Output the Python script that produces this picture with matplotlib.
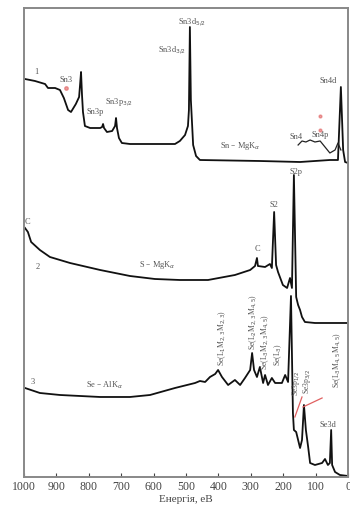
import numpy as np
from matplotlib import pyplot as plt

plt.rcParams['font.family'] = ['Liberation Serif', 'DejaVu Serif']

# spectrum 1: Sn - MgKa (binding energy, eV / intensity, arb. units)
sn_energy = [997, 966, 935, 926, 904, 889, 877, 864, 855, 840, 830, 827, 824, 821, 818,
             812, 796, 765, 759, 756, 753, 744, 728, 719, 716, 713, 707, 698, 673, 534,
             519, 503, 494, 491, 488, 485, 478, 469, 457, 272, 148, 56, 31, 22, 15, 9, 0]
sn_counts = [398, 396, 393, 389, 389, 387, 379, 367, 365, 373, 380, 392, 405, 382, 365,
             351, 349, 349, 350, 353, 349, 345, 346, 351, 359, 349, 339, 334, 333, 333,
             336, 342, 351, 367, 450, 377, 332, 321, 317, 316, 315, 317, 317, 390, 327, 315, 314]
# magnified Sn4s / Sn4p region
sn_zoom_energy = [154, 142, 130, 117, 102, 86, 71, 56, 40, 31, 22]
sn_zoom_counts = [332, 336, 335, 337, 335, 336, 330, 324, 327, 334, 327]

# spectrum 2: S - MgKa
s_energy = [997, 988, 978, 951, 920, 858, 765, 673, 596, 519, 432, 349, 302, 287, 281,
            278, 256, 241, 235, 228, 222, 216, 201, 188, 179, 173, 167, 160, 154, 148,
            142, 133, 102, 0]
s_counts = [249, 245, 235, 227, 220, 214, 207, 201, 198, 197, 197, 202, 207, 211, 219,
            211, 210, 213, 209, 265, 212, 205, 192, 189, 199, 189, 302, 180, 172, 167,
            160, 155, 154, 154]

# spectrum 3: Se - AlKa
se_energy = [997, 951, 889, 765, 673, 611, 534, 472, 457, 441, 426, 410, 401, 389, 370,
             349, 333, 318, 302, 296, 290, 281, 272, 262, 256, 247, 235, 225, 204, 194,
             185, 176, 170, 167, 160, 154, 148, 142, 136, 130, 123, 117, 102, 80, 71,
             62, 56, 52, 49, 40, 25, 0]
se_counts = [89, 84, 82, 80, 80, 82, 89, 94, 96, 95, 100, 103, 107, 100, 92,
             97, 92, 99, 107, 124, 107, 100, 110, 94, 102, 92, 99, 94, 94, 102,
             95, 181, 64, 47, 45, 37, 29, 37, 72, 47, 30, 14, 12, 14, 18,
             12, 14, 47, 12, 5, 2, 1]

x_ticks = [1000, 900, 800, 700, 600, 500, 400, 300, 200, 100, 0]

fig = plt.figure(figsize=(3.5, 5.13), dpi=100)
ax = fig.add_axes([0.0686, 0.0702, 0.9257, 0.9142])

line_kw = dict(color='#111111', linewidth=1.3)
ax.plot(sn_energy, sn_counts, **line_kw)
ax.plot(sn_zoom_energy, sn_zoom_counts, color='#222222', linewidth=0.9)
ax.plot(s_energy, s_counts, **line_kw)
ax.plot(se_energy, se_counts, **line_kw)

ax.set_xlim(1000, 0)
ax.set_ylim(0, 469)
ax.set_xticks(x_ticks)
ax.set_yticks([])
ax.tick_params(axis='x', direction='in', length=3, pad=3, labelsize=8.5,
               colors='#444444', top=False)
for side in ax.spines.values():
    side.set_color('#888888')
    side.set_linewidth(1.4)
ax.set_xlabel('Енергія, еВ', fontsize=8, color='#444444', labelpad=1)

txt = dict(fontsize=6, color='#555555', ha='center', va='center')
# spectrum 1 labels
ax.text(963, 405, '1', **txt)
ax.text(870, 397, 'Sn3', **txt)
ax.text(781, 365, 'Sn3p', **txt)
ax.text(707, 375, 'Sn3p$_{3/2}$', **txt)
ax.text(543, 427, 'Sn3d$_{3/2}$', **txt)
ax.text(481, 455, 'Sn3d$_{5/2}$', **txt)
ax.text(333, 331, 'Sn – MgK$_\\alpha$', **txt)
ax.text(160, 340, 'Sn4', **txt)
ax.text(86, 342, 'Sn4p', **txt)
ax.text(62, 396, 'Sn4d', **txt)

# spectrum 2 labels
ax.text(988, 255, 'C', **txt)
ax.text(957, 210, '2', **txt)
ax.text(590, 212, 'S – MgK$_\\alpha$', **txt)
ax.text(281, 228, 'C', **txt)
ax.text(228, 272, 'S2', **txt)
ax.text(160, 305, 'S2p', **txt)

# spectrum 3 labels
ax.text(972, 95, '3', **txt)
ax.text(750, 92, 'Se – AlK$_\\alpha$', **txt)
ax.text(62, 52, 'Se3d', **txt)
rot = dict(txt, rotation=90, fontsize=5.5)
ax.text(389, 139, 'Se(L$_1$M$_{2,3}$M$_{2,3}$)', **rot)
ax.text(293, 155, 'Se(L$_2$M$_{2,3}$M$_{4,5}$)', **rot)
ax.text(256, 135, 'Se(L$_3$M$_{2,3}$M$_{4,5}$)', **rot)
ax.text(216, 122, 'Se(L$_3$)', **rot)
ax.text(160, 94, 'Se3p$_{1/2}$', **rot)
ax.text(127, 96, 'Se3p$_{3/2}$', **rot)
ax.text(34, 117, 'Se(L$_3$M$_{4,5}$M$_{4,5}$)', **rot)

# red pencil marks
red = '#e06060'
ax.plot([164, 142], [60, 80], color=red, linewidth=0.9)
ax.plot([139, 80], [70, 79], color=red, linewidth=0.9)
ax.plot([870], [389], marker='o', markersize=2.5, color=red, alpha=0.6)
ax.plot([86], [361], marker='o', markersize=2, color=red, alpha=0.6)
ax.plot([86], [347], marker='o', markersize=2, color=red, alpha=0.6)

fig.savefig('out.png', dpi=100)
